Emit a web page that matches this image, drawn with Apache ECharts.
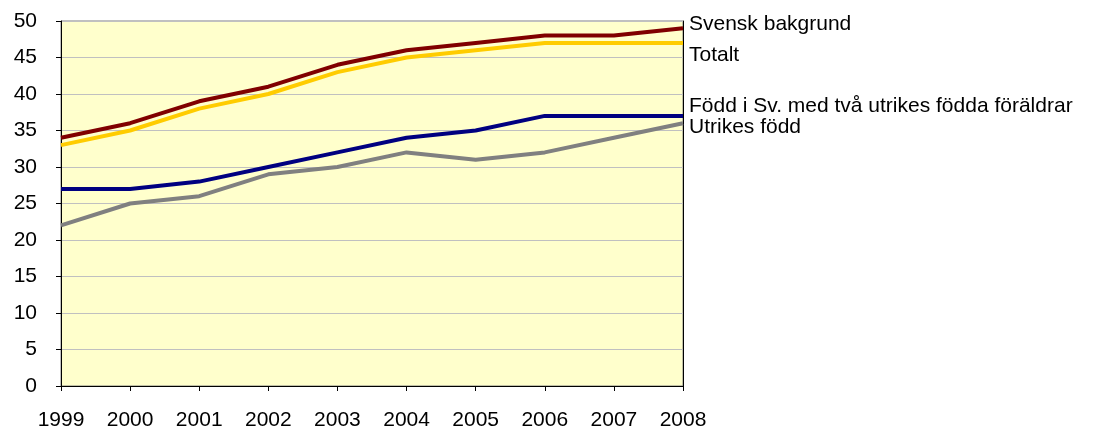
<!DOCTYPE html>
<html><head><meta charset="utf-8">
<script src="https://cdn.jsdelivr.net/npm/echarts@6/dist/echarts.min.js"></script>
<style>html,body{margin:0;padding:0;background:#fff}#c{width:1097px;height:432px}</style>
</head><body><div id="c"></div>
<script>
const years = ['1999','2000','2001','2002','2003','2004','2005','2006','2007','2008'];
const svensk = [34,36,39,41,44,46,47,48,48,49];
const totalt = [33,35,38,40,43,45,46,47,47,47];
const foddSv = [27,27,28,30,32,34,35,37,37,37];
const utrikes = [22,25,26,29,30,32,31,32,34,36];
const names = ['Svensk bakgrund','Totalt','Född i Sv. med två utrikes födda föräldrar','Utrikes född'];
const colors = ['#800000','#ffcc00','#000080','#808080'];
const labelOffsets = [[0,-4],[0,12],[0,-10],[0,4]];
const FONT = 'Liberation Sans, Arial, sans-serif';
const FS = 21;
const chart = echarts.init(document.getElementById('c'));
const datas = [svensk, totalt, foddSv, utrikes];
chart.setOption({
  animation:false,
  grid:{left:61,top:21,right:414,bottom:46,show:true,backgroundColor:'#ffffcc',borderColor:'#808080',borderWidth:1},
  xAxis:{type:'category',data:years,boundaryGap:false,
    axisLine:{lineStyle:{color:'#000',width:1}},
    axisTick:{show:true,length:5,lineStyle:{color:'#000'}},
    axisLabel:{color:'#000',fontSize:FS,fontFamily:FONT,margin:24},
    splitLine:{show:false}},
  yAxis:[{type:'value',min:0,max:50,interval:5,
    axisLine:{show:true,lineStyle:{color:'#000',width:1}},
    axisTick:{show:true,length:5,lineStyle:{color:'#000'}},
    axisLabel:{color:'#000',fontSize:FS,fontFamily:FONT,margin:24},
    splitLine:{lineStyle:{color:'#c0c0c0',width:1}}},
    {type:'value',min:0,max:50,interval:5,position:'right',
    axisLine:{show:true,lineStyle:{color:'#000',width:1}},
    axisTick:{show:false},axisLabel:{show:false},splitLine:{show:false}}],
  series: datas.map((d,i)=>({
    type:'line',name:names[i],data:d,symbol:'none',
    lineStyle:{color:colors[i],width:4},
    z: 10-i,
    endLabel:{show:true,formatter:names[i],color:'#000',fontSize:FS,fontFamily:FONT,distance:6,offset:labelOffsets[i]}
  }))
});
</script></body></html>
